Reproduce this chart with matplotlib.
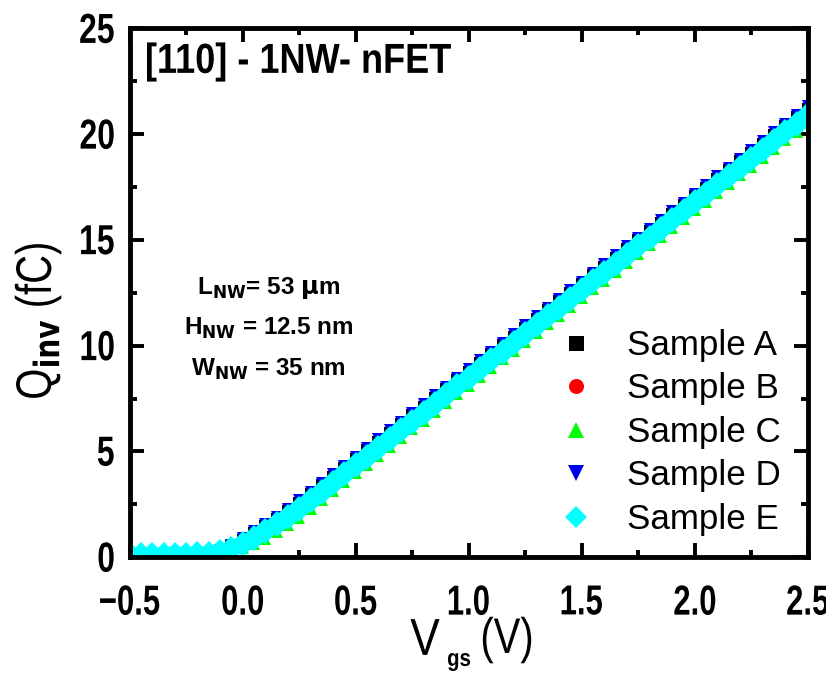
import matplotlib
matplotlib.use("Agg")
import matplotlib.pyplot as plt
from matplotlib.ticker import MultipleLocator
from matplotlib.textpath import TextPath
from matplotlib.patches import PathPatch
from matplotlib.transforms import Affine2D, IdentityTransform
from matplotlib.font_manager import FontProperties

# gate voltage sweep (V)
vgs = [-0.50, -0.45, -0.40, -0.35, -0.30, -0.25, -0.20, -0.15, -0.10, -0.05,
       0.00, 0.05, 0.10, 0.15, 0.20, 0.25, 0.30, 0.35, 0.40, 0.45,
       0.50, 0.55, 0.60, 0.65, 0.70, 0.75, 0.80, 0.85, 0.90, 0.95,
       1.00, 1.05, 1.10, 1.15, 1.20, 1.25, 1.30, 1.35, 1.40, 1.45,
       1.50, 1.55, 1.60, 1.65, 1.70, 1.75, 1.80, 1.85, 1.90, 1.95,
       2.00, 2.05, 2.10, 2.15, 2.20, 2.25, 2.30, 2.35, 2.40, 2.45, 2.50]

# inversion charge (fC)
q_a = [0.10, 0.10, 0.11, 0.11, 0.12, 0.13, 0.15, 0.18, 0.30, 0.52,
       0.82, 1.13, 1.46, 1.80, 2.18, 2.57, 2.98, 3.39, 3.80, 4.22,
       4.63, 5.05, 5.46, 5.88, 6.29, 6.70, 7.12, 7.53, 7.95, 8.36,
       8.77, 9.19, 9.60, 10.02, 10.43, 10.85, 11.26, 11.67, 12.09, 12.50,
       12.92, 13.33, 13.74, 14.16, 14.57, 14.99, 15.40, 15.82, 16.23, 16.64,
       17.06, 17.47, 17.89, 18.30, 18.72, 19.13, 19.54, 19.96, 20.37, 20.79, 21.20]
q_b = [0.11, 0.11, 0.12, 0.12, 0.13, 0.14, 0.15, 0.18, 0.28, 0.46,
       0.72, 1.02, 1.33, 1.66, 2.01, 2.38, 2.77, 3.16, 3.57, 3.99,
       4.40, 4.82, 5.23, 5.64, 6.06, 6.47, 6.89, 7.30, 7.72, 8.13,
       8.54, 8.96, 9.37, 9.79, 10.20, 10.61, 11.03, 11.44, 11.86, 12.27,
       12.69, 13.10, 13.51, 13.93, 14.34, 14.76, 15.17, 15.58, 16.00, 16.41,
       16.83, 17.24, 17.66, 18.07, 18.48, 18.90, 19.31, 19.73, 20.14, 20.56, 20.99]
q_c = [0.20, 0.21, 0.21, 0.22, 0.22, 0.23, 0.23, 0.24, 0.26, 0.31,
       0.42, 0.62, 0.88, 1.18, 1.51, 1.87, 2.26, 2.72, 3.14, 3.55,
       3.97, 4.38, 4.80, 5.21, 5.62, 6.04, 6.45, 6.87, 7.28, 7.70,
       8.11, 8.52, 8.94, 9.35, 9.77, 10.18, 10.60, 11.01, 11.42, 11.84,
       12.25, 12.67, 13.08, 13.50, 13.91, 14.32, 14.74, 15.15, 15.57, 15.98,
       16.40, 16.81, 17.22, 17.64, 18.05, 18.47, 18.88, 19.30, 19.71, 20.12, 20.54]
q_d = [0.12, 0.12, 0.13, 0.13, 0.14, 0.15, 0.17, 0.20, 0.35, 0.58,
       0.90, 1.22, 1.56, 1.90, 2.29, 2.68, 3.09, 3.50, 3.92, 4.33,
       4.75, 5.16, 5.58, 5.99, 6.40, 6.82, 7.23, 7.65, 8.06, 8.48,
       8.89, 9.30, 9.72, 10.13, 10.55, 10.96, 11.38, 11.79, 12.20, 12.62,
       13.03, 13.45, 13.86, 14.28, 14.69, 15.10, 15.52, 15.93, 16.35, 16.76,
       17.18, 17.59, 18.00, 18.42, 18.83, 19.25, 19.66, 20.08, 20.49, 20.90, 21.32]
q_e = [0.10, 0.10, 0.10, 0.11, 0.11, 0.12, 0.13, 0.15, 0.24, 0.40,
       0.64, 0.93, 1.24, 1.57, 1.92, 2.29, 2.68, 3.09, 3.51, 3.92,
       4.34, 4.75, 5.17, 5.58, 5.99, 6.41, 6.82, 7.24, 7.65, 8.07,
       8.48, 8.89, 9.31, 9.72, 10.14, 10.55, 10.97, 11.38, 11.79, 12.21,
       12.62, 13.04, 13.45, 13.87, 14.28, 14.69, 15.11, 15.52, 15.94, 16.35,
       16.77, 17.18, 17.59, 18.01, 18.42, 18.84, 19.25, 19.67, 20.08, 20.49, 20.91]

labels = ["Sample A", "Sample B", "Sample C", "Sample D", "Sample E"]
series = [q_a, q_b, q_c, q_d, q_e]
colors = ["black", "red", "#00ff00", "#0000ee", "cyan"]
markers = ["s", "o", "^", "v", "D"]
msizes = [8, 8, 8.5, 9, 13]

xtick_vals = [-0.5, 0.0, 0.5, 1.0, 1.5, 2.0, 2.5]
xtick_text = ["\u22120.5", "0.0", "0.5", "1.0", "1.5", "2.0", "2.5"]
ytick_vals = [0, 5, 10, 15, 20, 25]

fig = plt.figure(figsize=(8.26, 6.77), dpi=100)
ax = fig.add_axes([0.157, 0.177, 0.821, 0.781])


def narrow_text(x, y, s, px, sx, trans, ha="center", va="center",
                weight="bold", rot=0, dx=0, dy=0):
    # condensed text drawn as a path, sized in pixels
    fp = FontProperties(family="Liberation Sans", weight=weight)
    tp = TextPath((0, 0), s, size=px, prop=fp)
    ext = tp.get_extents()
    X, Y = trans.transform((x, y))
    ox = {"left": ext.x0, "center": (ext.x0 + ext.x1) / 2, "right": ext.x1}[ha]
    oy = {"bottom": ext.y0, "center": (ext.y0 + ext.y1) / 2, "top": ext.y1}[va]
    t = Affine2D().translate(-ox, -oy).scale(sx, 1).rotate_deg(rot).translate(X + dx, Y + dy)
    fig.add_artist(PathPatch(tp, transform=t, facecolor="black", edgecolor="none"))


for q, lab, c, m, ms in zip(series, labels, colors, markers, msizes):
    ax.plot(vgs, q, linestyle="none", marker=m, color=c, markersize=ms,
            markeredgewidth=0, label=lab)

ax.set_xlim(-0.5, 2.5)
ax.set_ylim(0, 25)
ax.xaxis.set_major_locator(MultipleLocator(0.5))
ax.xaxis.set_minor_locator(MultipleLocator(0.25))
ax.yaxis.set_major_locator(MultipleLocator(5))
ax.yaxis.set_minor_locator(MultipleLocator(2.5))
ax.tick_params(which="both", direction="in", top=True, right=True, width=2.8,
               labelbottom=False, labelleft=False)
ax.tick_params(which="major", length=10)
ax.tick_params(which="minor", length=5)
for s in ax.spines.values():
    s.set_linewidth(3.5)

fig.canvas.draw()
H = fig.bbox.height

for v, s in zip(xtick_vals, xtick_text):
    narrow_text(v, 0, s, 42, 0.74, ax.transData, dy=-43)
for v in ytick_vals:
    narrow_text(-0.5, v, str(v), 42, 0.76, ax.transData, ha="right", dx=-16)

ident = IdentityTransform()
narrow_text(425, H - 637, "V", 52, 0.85, ident, weight="normal")
narrow_text(459, H - 662, "gs", 24, 0.85, ident)
narrow_text(507, H - 640, "(V)", 50, 0.8, ident, weight="normal")
narrow_text(38, H - 321, r"Q$_{\mathbf{inv}}$ (fC)", 50, 0.8, ident, weight="normal", rot=90)
narrow_text(147, H - 62, "[110] - 1NW- nFET", 42, 0.86, ident, ha="left")

info = [r"L$_{\mathbf{NW}}$= 53 $\mathbf{\mu}$m",
        r"H$_{\mathbf{NW}}$ = 12.5 nm",
        r"W$_{\mathbf{NW}}$ = 35 nm"]
for i, s in enumerate(info):
    ax.text(0.205, 0.51 - i * 0.077, s, transform=ax.transAxes, ha="center",
            va="center", fontsize=17.5, fontweight="bold", family="Liberation Sans")

leg = ax.legend(loc="upper left", bbox_to_anchor=(0.632, 0.432), frameon=False,
                handlelength=1.0, handletextpad=0.95, borderpad=0, borderaxespad=0,
                labelspacing=0.30, markerscale=1.2,
                prop={"family": "Liberation Sans", "size": 25.2})
for h, ms in zip(leg.legend_handles, [9, 9, 10, 10, 9]):
    h.set_markersize(ms * 1.2)

fig.savefig("out.png", dpi=100)
